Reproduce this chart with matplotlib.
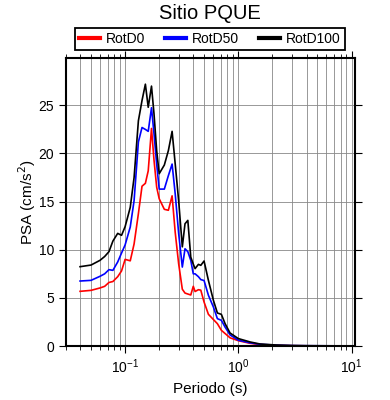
import numpy as np
import matplotlib
matplotlib.use("Agg")
import matplotlib.pyplot as plt

plt.rcParams['font.family'] = ['Liberation Sans', 'DejaVu Sans']

# periodos (s)
periodos = [0.04, 0.05, 0.06, 0.066, 0.072, 0.078, 0.086, 0.093, 0.1, 0.111,
            0.12, 0.131, 0.141, 0.151, 0.16, 0.171, 0.18, 0.19, 0.2, 0.222,
            0.241, 0.26, 0.277, 0.297, 0.32, 0.338, 0.358, 0.38, 0.4, 0.415,
            0.444, 0.466, 0.498, 0.544, 0.602, 0.653, 0.708, 0.763, 0.845, 1.0,
            1.27, 1.55, 2.18, 3.0, 4.0, 6.0, 8.0, 10.0]

rotd0 = [5.68, 5.78, 6.03, 6.2, 6.6, 6.7, 7.2, 7.8, 9.0, 8.85,
         10.6, 13.75, 16.6, 16.9, 18.2, 22.6, 19.3, 16.5, 15.3, 14.2,
         14.1, 15.6, 11.8, 8.55, 5.9, 5.5, 5.4, 5.3, 6.2, 5.66,
         5.85, 5.8, 4.57, 3.29, 2.75, 2.32, 1.63, 1.3, 0.85, 0.55,
         0.28, 0.15, 0.06, 0.03, 0.02, 0.015, 0.01, 0.01]

rotd50 = [6.75, 6.82, 7.24, 7.5, 7.93, 7.86, 8.73, 9.66, 10.5, 12.36,
          15.1, 21.2, 22.7, 22.5, 22.3, 24.75, 22.05, 18.9, 16.3, 16.3,
          17.7, 18.9, 15.8, 11.7, 8.2, 10.1, 9.8, 8.9, 7.5, 7.5,
          7.2, 6.9, 6.8, 5.27, 4.05, 2.84, 2.67, 1.97, 1.15, 0.6,
          0.33, 0.18, 0.08, 0.04, 0.03, 0.02, 0.015, 0.01]

rotd100 = [8.24, 8.41, 8.9, 9.3, 9.8, 10.9, 11.7, 11.5, 12.4, 14.4,
           17.5, 23.4, 25.5, 27.2, 24.8, 27.0, 24.1, 20.3, 17.9, 18.8,
           20.3, 22.3, 18.9, 15.1, 10.3, 12.7, 13.05, 9.24, 8.5, 8.04,
           8.48, 8.38, 8.83, 6.82, 4.75, 3.43, 3.29, 2.33, 1.35, 0.77,
           0.42, 0.21, 0.1, 0.05, 0.03, 0.02, 0.015, 0.01]

fig = plt.figure(figsize=(3.9, 4.0), dpi=100)
ax = fig.add_axes([0.169, 0.135, 0.741, 0.72])

ax.plot(periodos, rotd0, color='red', lw=1.2, label='RotD0')
ax.plot(periodos, rotd50, color='blue', lw=1.2, label='RotD50')
ax.plot(periodos, rotd100, color='black', lw=1.2, label='RotD100')

ax.set_xscale('log')
ax.set_xlim(0.03, 10.7)
ax.set_ylim(0, 1.1 * max(rotd100))
ax.set_yticks([0, 5, 10, 15, 20, 25])

ax.grid(True, which='major', color='#888888', lw=0.6)
ax.grid(True, which='minor', axis='x', color='#888888', lw=0.6)
ax.tick_params(which='both', direction='out', top=True, right=True, labelsize=10)
ax.tick_params(which='major', length=5)
ax.tick_params(which='minor', length=3)
for s in ax.spines.values():
    s.set_linewidth(1.5)

ax.set_xlabel('Periodo (s)', fontsize=11)
ax.set_ylabel('PSA (cm/s$^2$)', fontsize=11, labelpad=0.5)

fig.text(0.538, 0.966, 'Sitio PQUE', ha='center', va='center', fontsize=14.5)
leg = fig.legend(loc='center', bbox_to_anchor=(0.538, 0.902), ncol=3, fontsize=10,
                 fancybox=False, edgecolor='black', framealpha=1,
                 handlelength=1.5, columnspacing=1.4, borderpad=0.3,
                 handletextpad=0.45)
leg.get_frame().set_linewidth(1.3)
for l in leg.get_lines():
    l.set_linewidth(3)

fig.savefig('out.png', dpi=100)
